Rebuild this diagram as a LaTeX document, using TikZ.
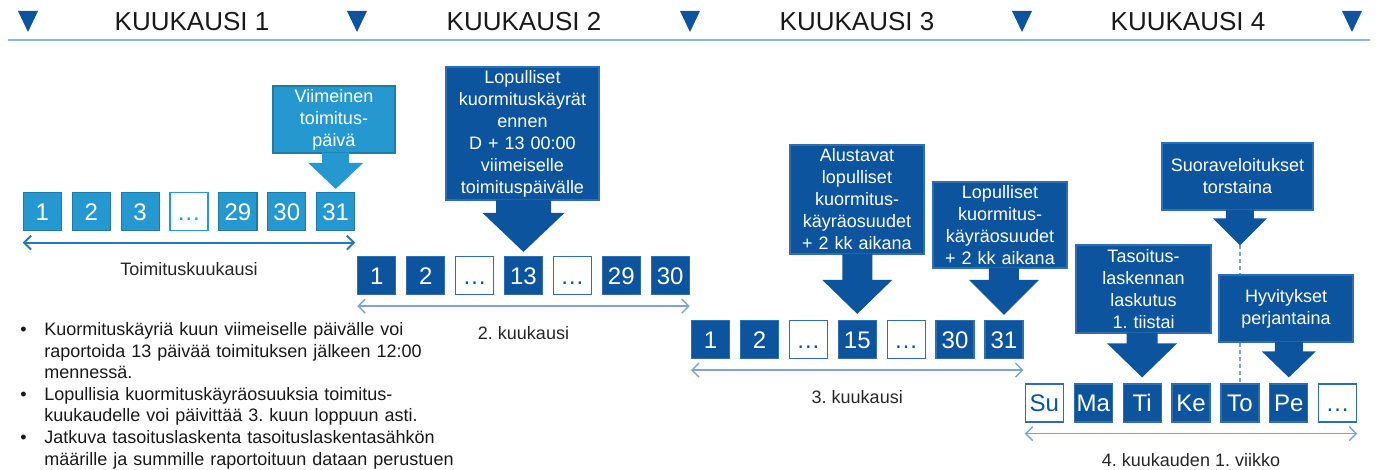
\documentclass[tikz,border=0pt]{standalone}
\usepackage{fontspec}
\setmainfont{Liberation Sans}
\frenchspacing
\usetikzlibrary{arrows.meta,calc}

\definecolor{kkdark}{RGB}{12,84,158}
\definecolor{kklight}{RGB}{38,152,208}
\definecolor{kkline}{RGB}{141,180,217}
\definecolor{kkspan}{RGB}{120,165,210}
\definecolor{kkspanone}{RGB}{40,122,172}

% fat arrow under a box: box, tip, shaft half width, head half width, head height
\newcommand{\fatarrow}[6][kkdark]{%
\fill[#1] let \p1=(#2.south), \p2=(#3) in
  (\x2-#4,\y1+0.5pt) -- (\x2+#4,\y1+0.5pt) -- (\x2+#4,\y2+#6) -- (\x2+#5,\y2+#6)
  -- (\x2,\y2) -- (\x2-#5,\y2+#6) -- (\x2-#4,\y2+#6) -- cycle;}
\newcommand{\bulletitem}{\hangindent=12pt\hangafter=1\noindent\makebox[12pt][l]{\textbullet}}

\begin{document}
\begin{tikzpicture}[x=0.5pt,y=-0.5pt]
\tikzstyle{daybox} = [rectangle, fill=kkdark, draw=kkdark!85!white, line width=0.6pt,
text=white, minimum size=19pt, inner sep=0pt, text height=8.6pt, text depth=0pt,
font=\fontsize{12}{14}\selectfont]
\tikzstyle{dayboxone} = [daybox, fill=kklight, draw=kklight!80!black]
\tikzstyle{gapbox} = [daybox, fill=white, text=kkdark]
\tikzstyle{gapboxone} = [daybox, fill=white, draw=kklight, text=kklight]
\tikzstyle{infobox} = [rectangle, fill=kkdark, draw=kkdark!85!white, line width=0.6pt,
text=white, align=center, inner xsep=2pt, inner ysep=0pt, font=\fontsize{9}{11}\selectfont]
\tikzstyle{spanline} = [draw=kkspan, line width=0.7pt,
{Straight Barb[length=3.5pt,width=7pt]}-{Straight Barb[length=3.5pt,width=7pt]}]
\tikzstyle{spanlineone} = [spanline, draw=kkspanone, line width=1pt]
\tikzstyle{spanlbl} = [font=\fontsize{9}{11}\selectfont, text=black!85]
\tikzstyle{monthtitle} = [font=\fontsize{13}{15}\selectfont, text=black!90]
\tikzstyle{notes} = [font=\fontsize{9}{10.8}\selectfont, text=black!90,
text width=250pt, inner sep=0pt]

\useasboundingbox (0,0) rectangle (1377,470);

% header
\draw[kkline, line width=1pt] (8,40) -- (1370,40);
\foreach \x in {28,357,690,1022,1352}
  \fill[kkdark] (\x-10,11) -- (\x+10,11) -- (\x,32) -- cycle;
\node[monthtitle] (k1) at (192,22) {KUUKAUSI 1};
\node[monthtitle] (k2) at (524,22) {KUUKAUSI 2};
\node[monthtitle] (k3) at (857,22) {KUUKAUSI 3};
\node[monthtitle] (k4) at (1188,22) {KUUKAUSI 4};

% month 1
\matrix (m1) at (189,211.5) [column sep=4.85pt]
{
\node[dayboxone] (a1) {1}; & \node[dayboxone] (a2) {2}; & \node[dayboxone] (a3) {3}; &
\node[gapboxone] (a4) {…}; & \node[dayboxone] (a5) {29}; & \node[dayboxone] (a6) {30}; &
\node[dayboxone] (a7) {31}; \\
};
% month 2
\matrix (m2) at (523.5,275.5) [column sep=4.85pt]
{
\node[daybox] (b1) {1}; & \node[daybox] (b2) {2}; & \node[gapbox] (b3) {…}; &
\node[daybox] (b4) {13}; & \node[gapbox] (b5) {…}; & \node[daybox] (b6) {29}; &
\node[daybox] (b7) {30}; \\
};
% month 3
\matrix (m3) at (857.25,339.5) [column sep=4.85pt]
{
\node[daybox] (c1) {1}; & \node[daybox] (c2) {2}; & \node[gapbox] (c3) {…}; &
\node[daybox] (c4) {15}; & \node[gapbox] (c5) {…}; & \node[daybox] (c6) {30}; &
\node[daybox] (c7) {31}; \\
};
% month 4, first week
\matrix (m4) at (1191,403) [column sep=4.85pt]
{
\node[gapbox] (d1) {Su}; & \node[daybox] (d2) {Ma}; & \node[daybox] (d3) {Ti}; &
\node[daybox] (d4) {Ke}; & \node[daybox] (d5) {To}; & \node[daybox] (d6) {Pe}; &
\node[gapbox] (d7) {…}; \\
};

% spans
\draw[spanlineone] ([yshift=-5.75pt]a1.south west) -- ([yshift=-5.75pt]a7.south east);
\draw[spanline] ([yshift=-5.5pt]b1.south west) -- ([yshift=-5.5pt]b7.south east);
\draw[spanline] ([yshift=-5.5pt]c1.south west) -- ([yshift=-5.5pt]c7.south east);
\draw[spanline] ([yshift=-5.5pt]d1.south west) -- ([yshift=-5.5pt]d7.south east);
\node[spanlbl] (t1) at ($(a1.south)!0.5!(a7.south)+(0,37.5)$) {Toimituskuukausi};
\node[spanlbl] (t2) at ($(b1.south)!0.5!(b7.south)+(0,37.5)$) {2. kuukausi};
\node[spanlbl] (t3) at ($(c1.south)!0.5!(c7.south)+(0,38)$) {3. kuukausi};
\node[spanlbl] (t4) at ($(d1.south)!0.5!(d7.south)+(0,37)$) {4. kuukauden 1. viikko};

% callouts
\node[infobox, fill=kklight, draw=kklight!80!black, minimum width=61pt, minimum height=33.5pt,
text width=56pt] (viim) at (334,119.5) {Viimeinen\\toimitus-\\päivä};
\coordinate (viimtip) at ($(a7.north)+(0,-3)$);
\fatarrow[kklight]{viim}{viimtip}{6.75pt}{13.75pt}{13pt}

\node[infobox, minimum width=76.5pt, minimum height=66.5pt, text width=72pt] (lopkk)
at (522.5,133.5) {Lopulliset\\kuormituskäyrät\\ennen\\D + 13 00:00\\viimeiselle\\toimituspäivälle};
\coordinate (lopkktip) at ($(b4.north)+(0,-4)$);
\fatarrow{lopkk}{lopkktip}{13.75pt}{20.5pt}{19.5pt}

\node[infobox, minimum width=67pt, minimum height=54.5pt, text width=63pt] (alust)
at (857,199.5) {Alustavat\\lopulliset\\kuormitus-\\käyräosuudet\\+ 2 kk aikana};
\coordinate (alusttip) at ($(c4.north)+(0,-6)$);
\fatarrow{alust}{alusttip}{7.5pt}{17.5pt}{17pt}

\node[infobox, minimum width=67pt, minimum height=43pt, text width=63pt] (lopos)
at (1000,225) {Lopulliset\\kuormitus-\\käyräosuudet\\+ 2 kk aikana};
\coordinate (lopostip) at ($(c7.north)+(0,-5)$);
\fatarrow{lopos}{lopostip}{7.5pt}{17.5pt}{17.5pt}

\node[infobox, minimum width=67.5pt, minimum height=44pt, text width=63pt] (tasoit)
at (1143.5,289) {Tasoitus-\\laskennan\\laskutus\\1. tiistai};
\coordinate (tasoittip) at ($(d3.north)+(0,-6)$);
\fatarrow{tasoit}{tasoittip}{7.75pt}{17.5pt}{17pt}

\node[infobox, minimum width=75.5pt, minimum height=33.5pt, text width=71pt] (suora)
at (1237.5,176.5) {Suoraveloitukset\\torstaina};
\coordinate (suoratip) at ($(d5.north)+(0,-138)$);
\fatarrow{suora}{suoratip}{7pt}{13.5pt}{13.5pt}
\draw[kkspan, dashed, dash pattern=on 2pt off 1.5pt, line width=0.6pt] (suoratip) -- (d5.north);

\node[infobox, minimum width=67pt, minimum height=33.5pt, text width=63pt] (hyvit)
at (1286,308.5) {Hyvitykset\\perjantaina};
\coordinate (hyvittip) at ($(d6.north)+(0,-6)$);
\fatarrow{hyvit}{hyvittip}{7pt}{13.5pt}{13pt}

% notes
\node[notes, anchor=north west] (notes) at (20,322) {%
\bulletitem Kuormituskäyriä kuun viimeiselle päivälle voi\newline raportoida 13 päivää toimituksen jälkeen 12:00\newline mennessä.\par
\bulletitem Lopullisia kuormituskäyräosuuksia toimitus-\newline kuukaudelle voi päivittää 3. kuun loppuun asti.\par
\bulletitem Jatkuva tasoituslaskenta tasoituslaskentasähkön\newline määrille ja summille raportoituun dataan perustuen\par};

\end{tikzpicture}
\end{document}
